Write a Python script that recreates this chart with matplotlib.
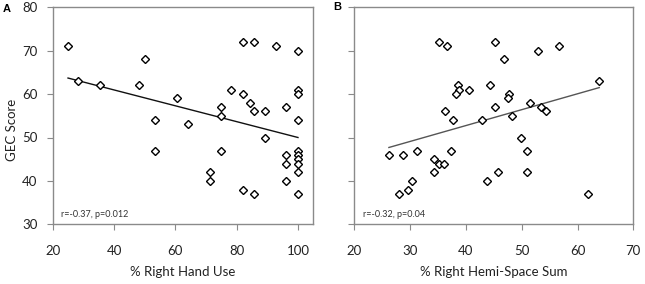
import numpy as np
import matplotlib
matplotlib.use("Agg")
import matplotlib.pyplot as plt

plt.rcParams['font.family'] = ['Lato', 'DejaVu Sans']

# Panel A data: % Right Hand Use vs GEC Score
hand_use = [25, 28.3, 35.5, 48, 50, 53.3, 53.3, 60.5, 64.2, 74.9, 74.9, 74.9, 71.3, 71.3,
            78.3, 82, 84.4, 85.6, 89.2, 89.2, 82, 85.6, 92.8, 100, 100, 100, 100,
            96.2, 96.2, 96.2, 96.2, 100, 100, 100, 100, 100, 82, 85.6, 100]
gec_a = [71, 63, 62, 62, 68, 54, 47, 59, 53, 57, 55, 47, 42, 40,
         61, 60, 58, 56, 56, 50, 72, 72, 71, 70, 61, 60, 54,
         57, 46, 44, 40, 47, 46, 45, 44, 42, 38, 37, 37]

# Panel B data: % Right Hemi-Space Sum vs GEC Score
hemi_space = [26.2, 28.8, 28.1, 29.7, 30.3, 31.3, 34.3, 34.3, 35.2, 36.1, 37.3, 36.2, 37.7,
              35.2, 36.6, 38.6, 38.7, 38.3, 40.5, 42.9, 43.8, 44.3, 45.2, 45.2, 45.7,
              46.8, 47.7, 47.6, 48.3, 49.9, 50.9, 50.9, 51.5, 52.9, 53.4, 54.3, 56.6, 61.9, 63.9]
gec_b = [46, 46, 37, 38, 40, 47, 45, 42, 44, 44, 47, 56, 54,
         72, 71, 62, 61, 60, 61, 54, 40, 62, 72, 57, 42,
         68, 60, 59, 55, 50, 47, 42, 58, 70, 57, 56, 71, 37, 63]

# Trend lines (as drawn in the figure)
trend_a_x = [25, 100]
trend_a_y = [63.7, 50.0]
trend_b_x = [26.2, 63.9]
trend_b_y = [47.7, 61.5]

panels = [
    dict(letter='A', x=hand_use, y=gec_a, tx=trend_a_x, ty=trend_a_y, tcol='#111111',
         xlabel='% Right Hand Use', xlim=(20, 105), xticks=[20, 40, 60, 80, 100],
         note='r=-0.37, p=0.012', ylabels=True),
    dict(letter='B', x=hemi_space, y=gec_b, tx=trend_b_x, ty=trend_b_y, tcol='#555555',
         xlabel='% Right Hemi-Space Sum', xlim=(20, 70), xticks=[20, 30, 40, 50, 60, 70],
         note='r=-0.32, p=0.04', ylabels=False),
]

fig = plt.figure(figsize=(6.45, 2.84), dpi=100)
W, H = 645, 284
boxes = [(52.7, 313.3), (354.3, 633.3)]
top, bottom = 7.3, 224.3
letter_pos = [(7, 8.5), (337.5, 7)]

for p, (l, r), (lx, ly) in zip(panels, boxes, letter_pos):
    ax = fig.add_axes([l / W, (H - bottom) / H, (r - l) / W, (bottom - top) / H])
    ax.plot(p['tx'], p['ty'], color=p['tcol'], lw=1.0, zorder=2)
    ax.plot(p['x'], p['y'], linestyle='none', marker='D', markersize=4.0,
            markerfacecolor='white', markeredgecolor='black', markeredgewidth=1.0, zorder=3)
    ax.set_xlim(*p['xlim'])
    ax.set_ylim(30, 80)
    ax.set_xticks(p['xticks'])
    ax.set_yticks([30, 40, 50, 60, 70, 80])
    for s in ax.spines.values():
        s.set_color('#8a8a8a')
        s.set_linewidth(1.0)
    ax.tick_params(direction='out', length=4, width=0.8, color='#8a8a8a',
                   labelsize=9.5, labelcolor='#222222')
    ax.tick_params(axis='x', pad=11)
    ax.tick_params(axis='y', pad=7)
    if not p['ylabels']:
        ax.set_yticklabels([])
    else:
        ax.set_ylabel('GEC Score', fontsize=9.5, color='#222222')
        ax.yaxis.set_label_coords(-0.155, 0.435)
        ax.yaxis.label.set_va('center')
    ax.set_xlabel(p['xlabel'], fontsize=9.5, color='#222222')
    ax.xaxis.set_label_coords(0.5, -0.22)
    ax.xaxis.label.set_va('center')
    ax.text(0.03, 0.045, p['note'], transform=ax.transAxes, fontsize=6.5,
            color='#333333', ha='left', va='center')
    fig.text(lx / W, 1 - ly / H, p['letter'], fontsize=8, fontweight='bold',
             family=['Liberation Sans', 'DejaVu Sans'], ha='center', va='center')

fig.savefig('out.png', dpi=100)
